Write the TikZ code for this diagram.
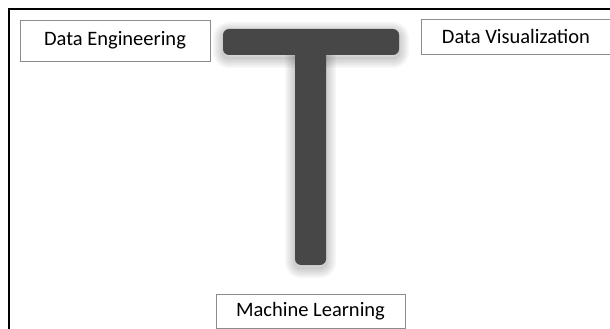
\documentclass[tikz,border=0pt]{standalone}
\usepackage{fontspec}
\setmainfont{Carlito}
\usetikzlibrary{positioning}
\definecolor{tgray}{HTML}{474747}
\definecolor{boxgray}{HTML}{8C8C8C}

% the two parts of the T, in pixel units
\newcommand{\tbar}{(223,29) rectangle (399,55)}
\newcommand{\tstem}{(295,50) rectangle (326,265)}

\begin{document}
\begin{tikzpicture}[x=1pt, y=-1pt, node distance=28pt,
  skill/.style={draw=boxgray, line width=0.8pt, fill=white, minimum width=190pt,
    minimum height=36pt, inner sep=0pt, font=\fontsize{20.5}{23}\selectfont},
  tshape/.style={fill=tgray, rounded corners=6pt},
  tshade/.style={draw=black, rounded corners=6pt, line join=round, draw opacity=0.03}]
  \useasboundingbox (0,0) rectangle (610,329);
  \clip (0,0) rectangle (610,329);
  \fill[white] (0,0) rectangle (610,329);
  \draw[line width=2pt] (9,340) |- (620,9);

  % soft shadow under the T
  \begin{scope}[yshift=-3pt, transparency group]
    \foreach \w in {20,17,14,11,8,5,2} {
      \draw[tshade, line width=\w pt] \tbar;
      \draw[tshade, line width=\w pt] \tstem;
    }
  \end{scope}
  % the T
  \fill[tshape] \tbar;
  \fill[tshape] \tstem;
  \coordinate (tfoot) at (310.5,265);

  \node[skill, minimum height=41pt] (eng) at (115,40.5) {Data Engineering};
  \node[skill, minimum height=35pt] (vis) at (516,36.5) {Data Visualization};
  \node[skill, minimum width=189pt, minimum height=34pt, below=29pt of tfoot] (ml) {Machine Learning};
\end{tikzpicture}
\end{document}
